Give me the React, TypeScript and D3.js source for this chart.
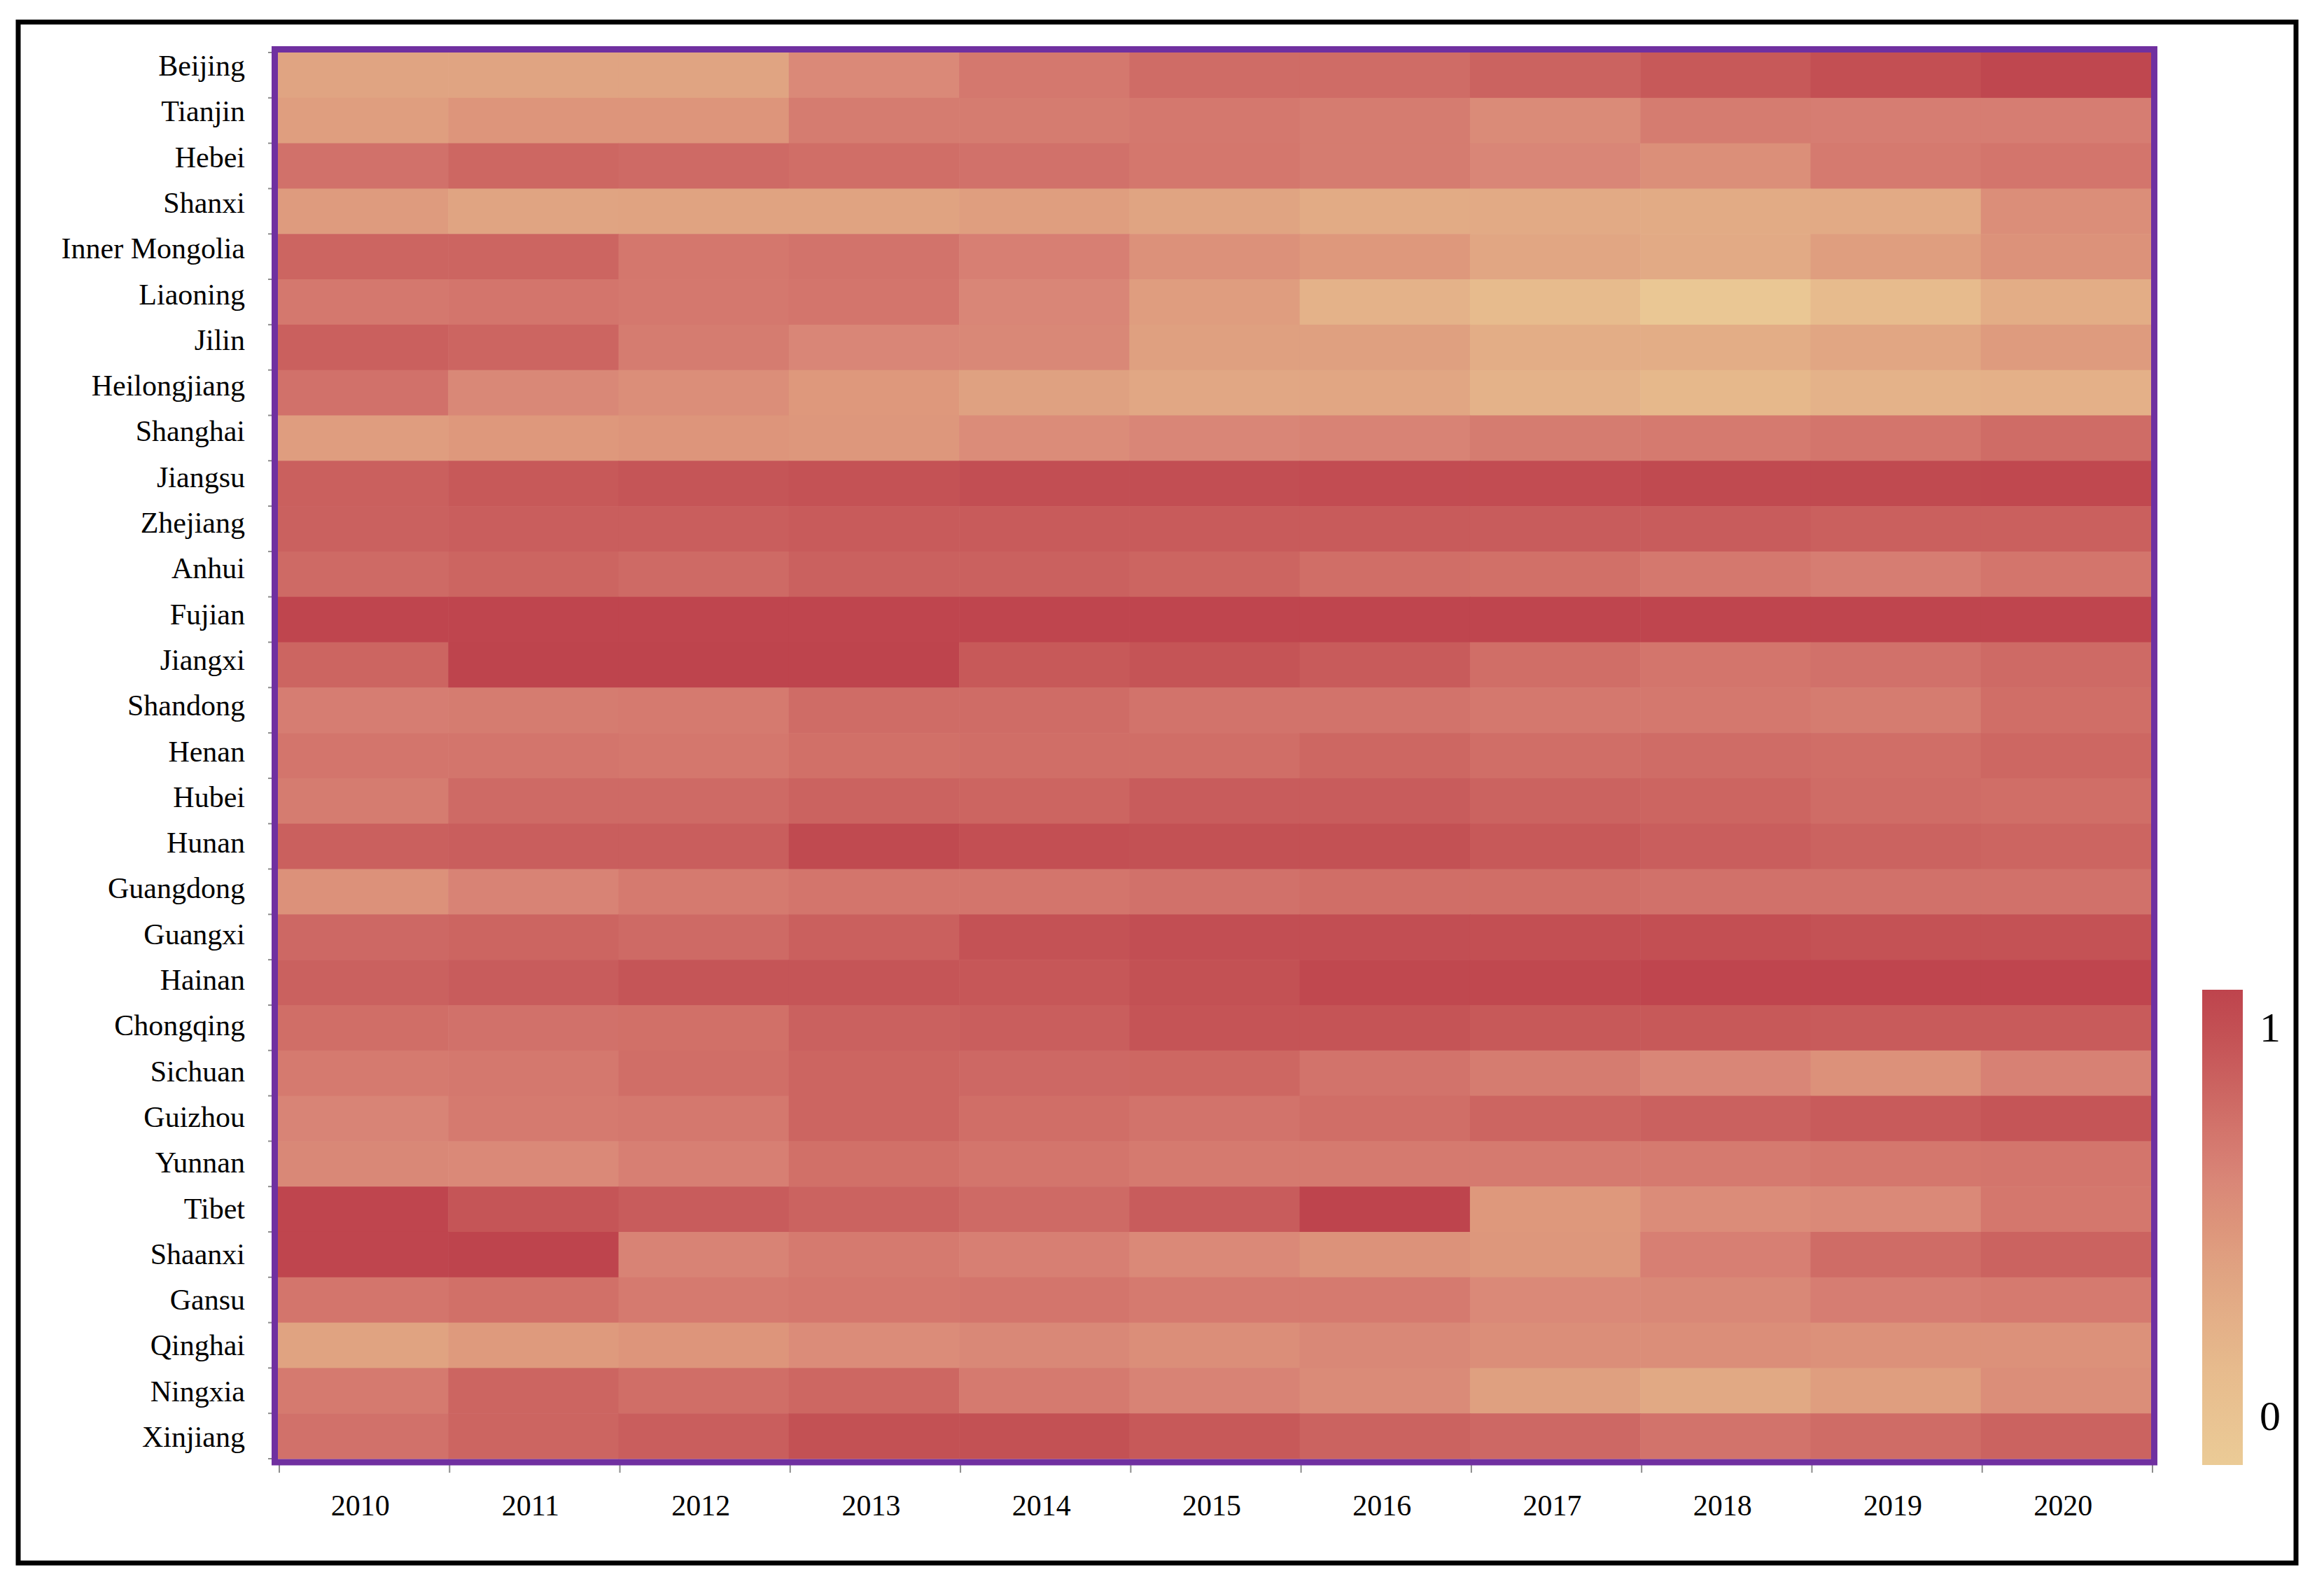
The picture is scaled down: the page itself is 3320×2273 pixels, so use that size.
import React from 'react';
import * as d3 from 'd3';

const provinces = [
  'Beijing', 'Tianjin', 'Hebei', 'Shanxi', 'Inner Mongolia', 'Liaoning', 'Jilin', 'Heilongjiang',
  'Shanghai', 'Jiangsu', 'Zhejiang', 'Anhui', 'Fujian', 'Jiangxi', 'Shandong', 'Henan',
  'Hubei', 'Hunan', 'Guangdong', 'Guangxi', 'Hainan', 'Chongqing', 'Sichuan', 'Guizhou',
  'Yunnan', 'Tibet', 'Shaanxi', 'Gansu', 'Qinghai', 'Ningxia', 'Xinjiang',
];

const years = ['2010', '2011', '2012', '2013', '2014', '2015', '2016', '2017', '2018', '2019', '2020'];

// one row per province, one value per year (2010..2020)
const beijing = [0.40, 0.40, 0.40, 0.58, 0.68, 0.75, 0.75, 0.80, 0.86, 0.92, 0.98];
const tianjin = [0.44, 0.50, 0.50, 0.66, 0.66, 0.68, 0.66, 0.57, 0.66, 0.65, 0.65];
const hebei = [0.72, 0.78, 0.76, 0.74, 0.72, 0.69, 0.66, 0.60, 0.54, 0.67, 0.70];
const shanxi = [0.46, 0.40, 0.41, 0.41, 0.44, 0.40, 0.34, 0.35, 0.34, 0.35, 0.55];
const innerMongolia = [0.79, 0.79, 0.69, 0.71, 0.64, 0.53, 0.48, 0.38, 0.35, 0.44, 0.52];
const liaoning = [0.68, 0.70, 0.68, 0.70, 0.60, 0.45, 0.28, 0.20, 0.05, 0.20, 0.32];
const jilin = [0.82, 0.79, 0.66, 0.60, 0.59, 0.43, 0.43, 0.32, 0.32, 0.38, 0.46];
const heilongjiang = [0.72, 0.59, 0.55, 0.48, 0.42, 0.37, 0.38, 0.28, 0.23, 0.28, 0.30];
const shanghai = [0.45, 0.48, 0.50, 0.49, 0.56, 0.60, 0.62, 0.66, 0.67, 0.70, 0.75];
const jiangsu = [0.82, 0.86, 0.88, 0.90, 0.93, 0.93, 0.94, 0.94, 0.96, 0.96, 0.97];
const zhejiang = [0.81, 0.83, 0.83, 0.85, 0.85, 0.85, 0.85, 0.84, 0.84, 0.82, 0.82];
const anhui = [0.76, 0.79, 0.76, 0.81, 0.81, 0.79, 0.74, 0.73, 0.68, 0.65, 0.70];
const fujian = [0.99, 0.99, 0.99, 0.99, 0.99, 0.99, 0.99, 0.99, 0.99, 0.99, 0.99];
const jiangxi = [0.79, 1.00, 1.00, 1.00, 0.86, 0.89, 0.85, 0.74, 0.70, 0.72, 0.76];
const shandong = [0.65, 0.66, 0.67, 0.75, 0.75, 0.71, 0.71, 0.68, 0.68, 0.66, 0.74];
const henan = [0.70, 0.70, 0.69, 0.73, 0.74, 0.74, 0.78, 0.74, 0.75, 0.74, 0.78];
const hubei = [0.66, 0.76, 0.76, 0.80, 0.79, 0.84, 0.84, 0.80, 0.79, 0.75, 0.74];
const hunan = [0.82, 0.83, 0.83, 0.96, 0.92, 0.91, 0.91, 0.86, 0.83, 0.80, 0.79];
const guangdong = [0.53, 0.62, 0.67, 0.70, 0.70, 0.72, 0.74, 0.74, 0.72, 0.72, 0.72];
const guangxi = [0.77, 0.79, 0.76, 0.82, 0.90, 0.93, 0.93, 0.92, 0.92, 0.90, 0.90];
const hainan = [0.81, 0.84, 0.88, 0.88, 0.87, 0.91, 0.97, 0.97, 0.99, 0.99, 0.99];
const chongqing = [0.74, 0.72, 0.73, 0.81, 0.83, 0.89, 0.89, 0.86, 0.86, 0.85, 0.85];
const sichuan = [0.67, 0.68, 0.74, 0.79, 0.77, 0.78, 0.71, 0.66, 0.60, 0.53, 0.63];
const guizhou = [0.61, 0.67, 0.68, 0.79, 0.74, 0.71, 0.74, 0.79, 0.81, 0.85, 0.88];
const yunnan = [0.59, 0.58, 0.64, 0.73, 0.70, 0.67, 0.67, 0.67, 0.67, 0.69, 0.70];
const tibet = [0.99, 0.88, 0.84, 0.80, 0.76, 0.84, 1.00, 0.48, 0.56, 0.58, 0.69];
const shaanxi = [0.99, 1.00, 0.62, 0.67, 0.64, 0.58, 0.52, 0.49, 0.64, 0.75, 0.80];
const gansu = [0.70, 0.73, 0.67, 0.69, 0.70, 0.67, 0.67, 0.58, 0.59, 0.65, 0.67];
const qinghai = [0.41, 0.47, 0.50, 0.56, 0.59, 0.55, 0.59, 0.55, 0.55, 0.53, 0.53];
const ningxia = [0.67, 0.79, 0.74, 0.78, 0.67, 0.62, 0.57, 0.43, 0.36, 0.44, 0.55];
const xinjiang = [0.72, 0.79, 0.83, 0.91, 0.91, 0.86, 0.80, 0.77, 0.71, 0.75, 0.80];

const rows = [
  beijing, tianjin, hebei, shanxi, innerMongolia, liaoning, jilin, heilongjiang,
  shanghai, jiangsu, zhejiang, anhui, fujian, jiangxi, shandong, henan,
  hubei, hunan, guangdong, guangxi, hainan, chongqing, sichuan, guizhou,
  yunnan, tibet, shaanxi, gansu, qinghai, ningxia, xinjiang,
];

const legendTicks = [0, 1];

const colorDomain = [0, 0.2, 0.4, 0.5, 0.6, 0.7, 0.8, 0.9, 1];
const colorRange = ['#EBCB96', '#E7BB8D', '#E0A482', '#DD957B', '#D98677', '#D3756C', '#CB6360', '#C45255', '#BE444D'];

const W = 3320;
const H = 2273;
const FONT = '"Liberation Serif", "Times New Roman", serif';

export default function App() {
  const color = d3.scaleLinear<string>().domain(colorDomain).range(colorRange).interpolate(d3.interpolateRgb).clamp(true);

  const x = d3.scaleBand().domain(years).range([397, 3073]);
  const y = d3.scaleBand().domain(provinces).range([75, 2084]);
  const yLab = d3.scalePoint().domain(provinces).range([108, 2067]);

  const cbTop = 1414;
  const cbBottom = 2093;
  const cbScale = d3.scaleLinear().domain([0, 1]).range([2043, 1488]);

  const cells = [];
  rows.forEach((vals, ri) => {
    vals.forEach((v, ci) => {
      cells.push(
        <rect
          key={`${ri}-${ci}`}
          x={x(years[ci])}
          y={y(provinces[ri])}
          width={x.bandwidth() + 0.6}
          height={y.bandwidth() + 0.6}
          fill={color(v)}
        />
      );
    });
  });

  const xBounds = years.map((yr) => x(yr) as number).concat([x.range()[1]]);
  const yBounds = provinces.map((p) => y(p) as number).concat([y.range()[1]]);

  const gradStops = d3.range(0, 1.0001, 0.05);

  return (
    <svg width={W} height={H} style={{ position: 'absolute', left: 0, top: 0, background: '#fff' }}>
      <defs>
        <linearGradient id="cb" x1="0" y1="1" x2="0" y2="0">
          {gradStops.map((t) => (
            <stop key={t} offset={`${t * 100}%`} stopColor={color(t)} />
          ))}
        </linearGradient>
      </defs>
      <rect x={0} y={0} width={W} height={H} fill="#fff" />
      {/* outer frame */}
      <rect x={26} y={31.5} width={3254} height={2201.5} fill="none" stroke="#000" strokeWidth={7} />

      {/* heatmap cells */}
      <g>{cells}</g>

      {/* ticks */}
      <g stroke="#8c8c8c" strokeWidth={2}>
        {xBounds.map((bx, i) => (
          <line key={`xt${i}`} x1={bx + 2} x2={bx + 2} y1={2093} y2={2104} />
        ))}
        {yBounds.map((by, i) => (
          <line key={`yt${i}`} x1={383} x2={389} y1={by} y2={by} />
        ))}
      </g>

      {/* purple frame */}
      <rect x={392.5} y={70.5} width={2685} height={2018.5} fill="none" stroke="#7030A0" strokeWidth={9} />

      {/* y labels */}
      <g fontFamily={FONT} fontSize={42} fill="#000" textAnchor="end">
        {provinces.map((p) => (
          <text key={p} x={350} y={yLab(p)}>{p}</text>
        ))}
      </g>

      {/* x labels */}
      <g fontFamily={FONT} fontSize={42} fill="#000" textAnchor="middle">
        {years.map((yr) => (
          <text key={yr} x={(x(yr) as number) + x.bandwidth() / 2 - 4} y={2165}>{yr}</text>
        ))}
      </g>

      {/* colour bar */}
      <rect x={3146} y={cbTop} width={58} height={cbBottom - cbTop} fill="url(#cb)" />
      <g fontFamily={FONT} fontSize={60} fill="#000" textAnchor="start">
        {legendTicks.map((t) => (
          <text key={t} x={3228} y={cbScale(t)}>{t}</text>
        ))}
      </g>
    </svg>
  );
}
